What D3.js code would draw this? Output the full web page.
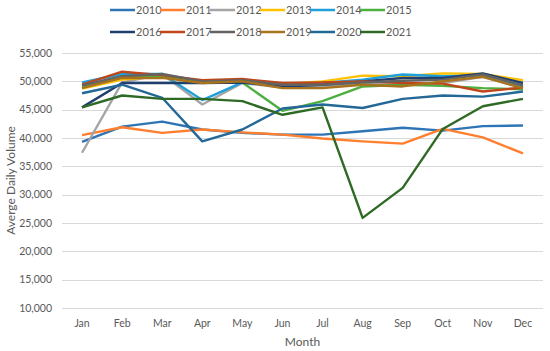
<!DOCTYPE html>
<html>
<head>
<meta charset="utf-8">
<script src="https://cdn.jsdelivr.net/npm/d3@7"></script>
<style>
    body { margin: 0; background: #fff; }
    text { font-family: Lato, "Open Sans", sans-serif; fill: #595959; }
</style>
</head>
<body>
<div id="chart"></div>
<script>
// months on the x axis
const months = ["Jan", "Feb", "Mar", "Apr", "May", "Jun", "Jul", "Aug", "Sep", "Oct", "Nov", "Dec"];
const yTicks = [10000, 15000, 20000, 25000, 30000, 35000, 40000, 45000, 50000, 55000];

// average daily volume per year
const years = ["2010", "2011", "2012", "2013", "2014", "2015", "2016", "2017", "2018", "2019", "2020", "2021"];
const colors = ["#2E75B6", "#FF7F2F", "#A5A5A5", "#FFC000", "#1FA0DB", "#4CAF3F",
                "#1F3F6E", "#C0461A", "#636363", "#A8731C", "#236896", "#2F6A25"];

const v2010 = [39300, 42000, 42900, 41500, 40900, 40600, 40600, 41200, 41800, 41300, 42100, 42200];
const v2011 = [40500, 41900, 40900, 41500, 41000, 40600, 39900, 39400, 39000, 41600, 40100, 37300];
const v2012 = [37400, 49800, 51300, 45900, 49700, 48900, 49000, 49500, 49400, 49700, 50800, 48800];
const v2013 = [48700, 50300, 50900, 50000, 50200, 49500, 50000, 51000, 50900, 51400, 51300, 50200];
const v2014 = [49800, 51300, 51300, 46700, 49800, 49300, 49700, 50300, 51200, 50900, 51000, 49100];
const v2015 = [49100, 50900, 51000, 49900, 49800, 44800, 46500, 49100, 49400, 49200, 48800, 48600];
const v2016 = [45400, 49700, 49700, 49700, 49800, 49100, 49400, 50000, 50600, 50600, 51400, 49700];
const v2017 = [49400, 51700, 51100, 50200, 50400, 49700, 49800, 50000, 49700, 49600, 48200, 48900];
const v2018 = [49300, 50900, 51300, 50000, 50200, 49400, 49400, 49800, 50100, 50300, 51200, 49300];
const v2019 = [48800, 50600, 50600, 49700, 50000, 48800, 48800, 49400, 49100, 50000, 50800, 48800];
const v2020 = [47900, 49400, 47100, 39400, 41500, 45200, 45900, 45300, 46900, 47500, 47300, 48200];
const v2021 = [45400, 47500, 46900, 46900, 46500, 44100, 45400, 25900, 31200, 41600, 45600, 46900];

const seriesValues = [v2010, v2011, v2012, v2013, v2014, v2015, v2016, v2017, v2018, v2019, v2020, v2021];

const width = 550, height = 351;
const margin = {top: 53, left: 62, right: 7, bottom: 43};

const svg = d3.select("#chart").append("svg")
    .attr("width", width)
    .attr("height", height);

// scales
const x = d3.scaleBand()
    .domain(months)
    .range([margin.left, width - margin.right]);

const y = d3.scaleLinear()
    .domain([10000, 55000])
    .range([height - margin.bottom, margin.top]);

// gridlines
svg.append("g")
    .selectAll("line")
    .data(yTicks)
    .enter()
    .append("line")
    .attr("x1", margin.left)
    .attr("x2", width - margin.right)
    .attr("y1", d => Math.round(y(d)) + 0.5)
    .attr("y2", d => Math.round(y(d)) + 0.5)
    .attr("stroke", "#d9d9d9")
    .attr("stroke-width", 1);

// y axis labels
svg.append("g")
    .selectAll("text")
    .data(yTicks)
    .enter()
    .append("text")
    .attr("x", 52)
    .attr("y", d => y(d))
    .attr("dy", "0.35em")
    .attr("text-anchor", "end")
    .style("font-size", "10.5px")
    .text(d => d3.format(",")(d));

// x axis labels
svg.append("g")
    .selectAll("text")
    .data(months)
    .enter()
    .append("text")
    .attr("x", d => x(d) + x.bandwidth() / 2)
    .attr("y", 323)
    .attr("dy", "0.35em")
    .attr("text-anchor", "middle")
    .style("font-size", "10.5px")
    .text(d => d);

// axis titles
svg.append("text")
    .attr("x", x(months[0]) + (width - margin.right - margin.left) / 2)
    .attr("y", 342)
    .attr("dy", "0.35em")
    .attr("text-anchor", "middle")
    .style("font-size", "12px")
    .text("Month");

svg.append("text")
    .attr("transform", `translate(11, ${y(32500)}) rotate(-90)`)
    .attr("dy", "0.35em")
    .attr("text-anchor", "middle")
    .style("font-size", "12px")
    .text("Averge Daily Volume");

// lines
const line = d3.line()
    .x((d, i) => x(months[i]) + x.bandwidth() / 2)
    .y(d => y(d));

svg.append("g")
    .selectAll("path")
    .data(seriesValues)
    .enter()
    .append("path")
    .attr("d", d => line(d))
    .attr("fill", "none")
    .attr("stroke", (d, i) => colors[i])
    .attr("stroke-width", 2.4)
    .attr("stroke-linejoin", "round");

// legend, two rows of six
const legend = svg.append("g")
    .selectAll("g")
    .data(years)
    .enter()
    .append("g")
    .attr("transform", (d, i) => `translate(${110 + (i % 6) * 50}, ${i < 6 ? 10 : 32})`);

legend.append("line")
    .attr("x1", 0)
    .attr("x2", 25)
    .attr("stroke", (d, i) => colors[i])
    .attr("stroke-width", 2.5);

legend.append("text")
    .attr("x", 26)
    .attr("dy", "0.35em")
    .style("font-size", "11px")
    .text(d => d);
</script>
</body>
</html>
